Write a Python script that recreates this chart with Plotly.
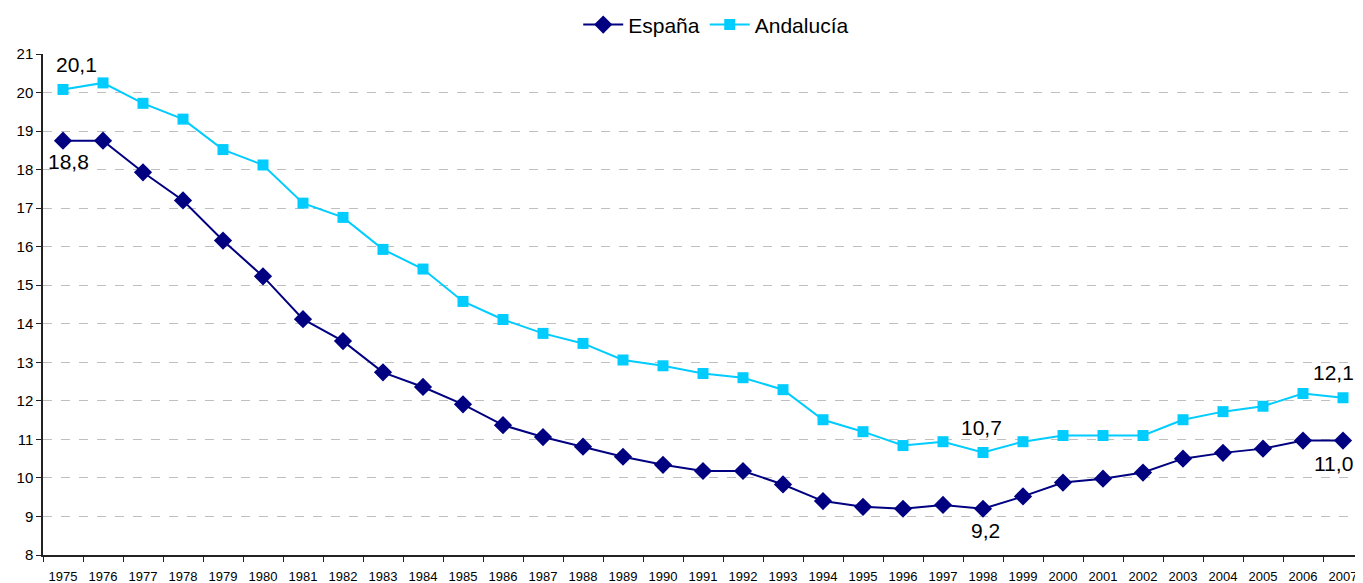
import plotly.graph_objects as go

years = [str(y) for y in range(1975, 2008)]
espana = [18.75, 18.75, 17.93, 17.2, 16.16, 15.23, 14.12, 13.55, 12.74, 12.36,
          11.91, 11.37, 11.06, 10.81, 10.55, 10.34, 10.18, 10.18, 9.83, 9.40,
          9.25, 9.20, 9.30, 9.20, 9.52, 9.88, 9.98, 10.14, 10.50, 10.65,
          10.76, 10.97, 10.97]
andalucia = [20.08, 20.25, 19.72, 19.31, 18.52, 18.12, 17.13, 16.76, 15.93, 15.42,
             14.58, 14.11, 13.75, 13.49, 13.06, 12.91, 12.71, 12.60, 12.29, 11.51,
             11.20, 10.84, 10.94, 10.66, 10.94, 11.10, 11.10, 11.10, 11.51, 11.72,
             11.86, 12.19, 12.08]

# labelled points: (year, label text, xshift, yshift)
esp_labels = [("1975", "18,8", 5, -21), ("1998", "9,2", 2, -22), ("2007", "11,0", -10, -23)]
and_labels = [("1975", "20,1", 13, 25), ("1998", "10,7", -2, 25), ("2007", "12,1", -10, 25)]

fig = go.Figure()
fig.add_trace(go.Scatter(x=years, y=espana, name="España", mode="lines+markers",
                         line=dict(color="#000080", width=2),
                         marker=dict(symbol="diamond", size=14, color="#000080")))
fig.add_trace(go.Scatter(x=years, y=andalucia, name="Andalucía", mode="lines+markers",
                         line=dict(color="#00CCFF", width=2),
                         marker=dict(symbol="square", size=11, color="#00CCFF")))

for yr, txt, xs, ys in esp_labels:
    i = years.index(yr)
    fig.add_annotation(x=i, y=espana[i], text=txt, showarrow=False,
                       xshift=xs, yshift=ys, font=dict(size=21, color="#000000"))
for yr, txt, xs, ys in and_labels:
    i = years.index(yr)
    fig.add_annotation(x=i, y=andalucia[i], text=txt, showarrow=False,
                       xshift=xs, yshift=ys, font=dict(size=21, color="#000000"))

fig.update_layout(
    width=1355, height=575,
    margin=dict(l=35, r=0, t=46, b=28, autoexpand=False),
    paper_bgcolor="white", plot_bgcolor="white",
    font=dict(family="Liberation Sans, Arial, sans-serif", color="#000000"),
    showlegend=True,
    legend=dict(orientation="h", x=0.51, xanchor="center", y=1.058, yanchor="middle",
                font=dict(size=21), itemwidth=40, traceorder="normal"),
    xaxis=dict(type="category", tickson="boundaries", ticks="outside", ticklen=5,
               tickcolor="#222222", showline=True, linecolor="#222222", linewidth=1.5,
               showgrid=False, tickfont=dict(size=13), tickangle=0,
               ticklabelstandoff=9, range=[-0.5, 32.5], automargin=False),
    yaxis=dict(range=[8, 21], dtick=1, ticks="outside", ticklen=5, tickcolor="#222222",
               showline=True, linecolor="#222222", linewidth=1.5,
               showgrid=True, gridcolor="#BFBFBF", griddash="dash", gridwidth=1,
               tickfont=dict(size=15), zeroline=False, automargin=False),
)

fig.write_html("out.html")
